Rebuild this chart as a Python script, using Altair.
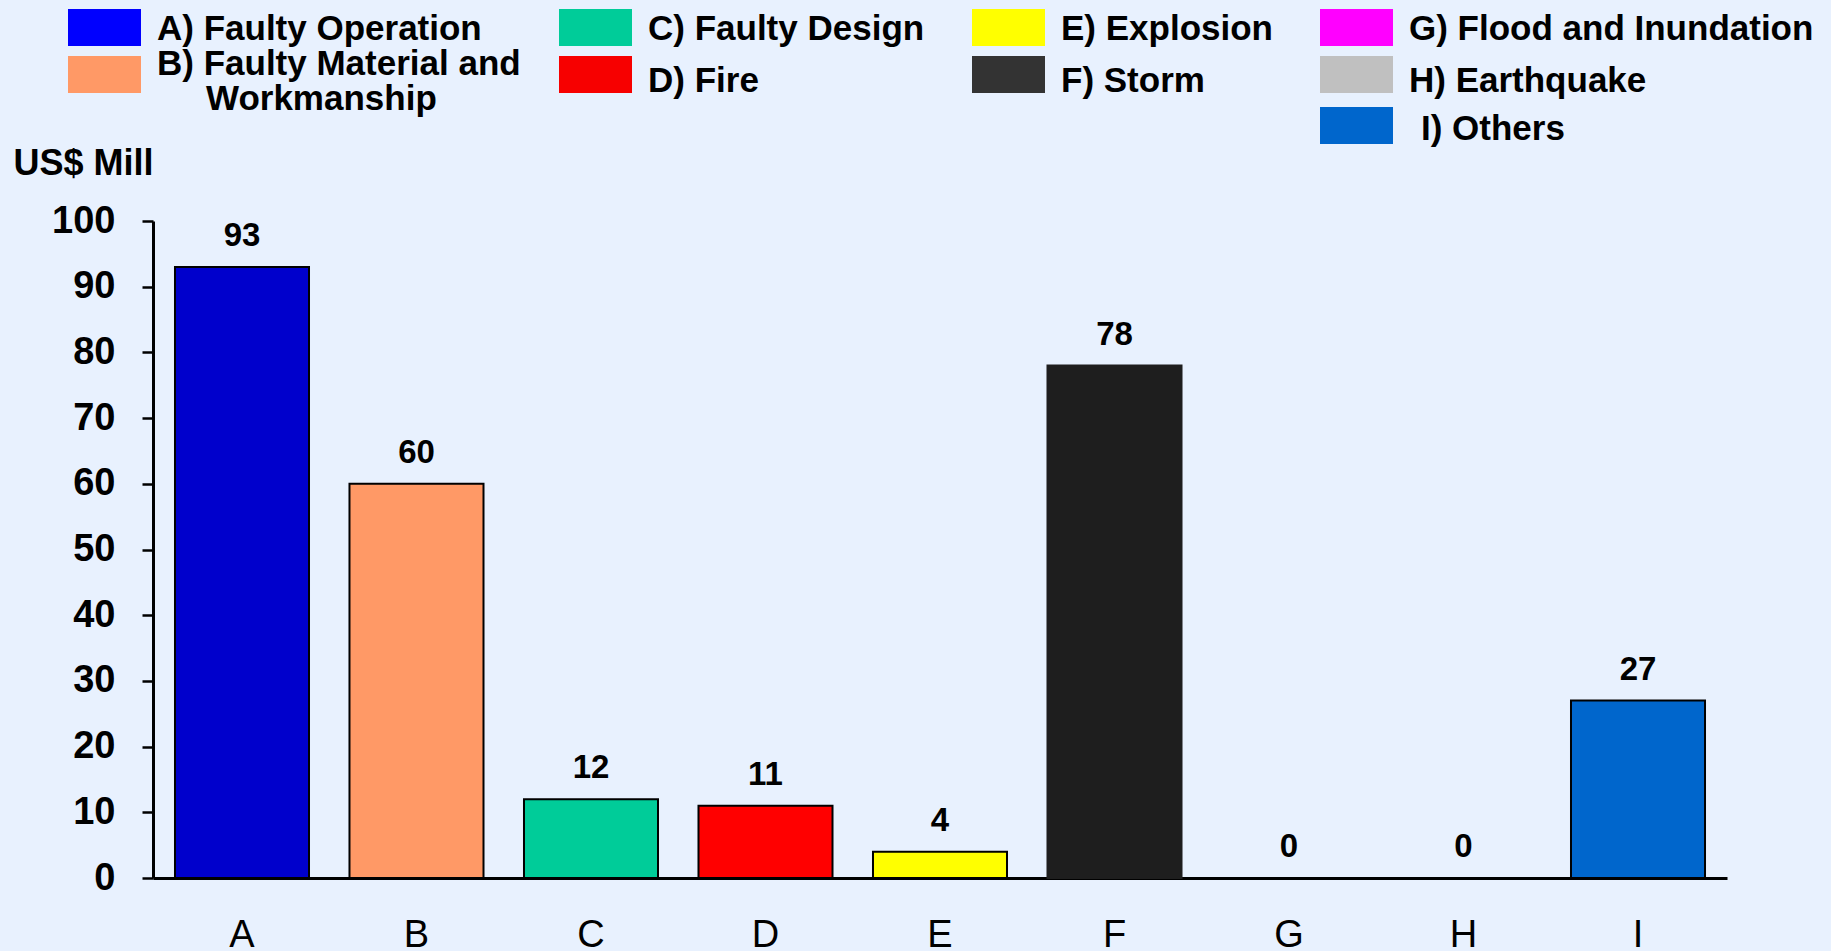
import altair as alt
import pandas as pd

# ---- data -----------------------------------------------------------------
categories = ["A", "B", "C", "D", "E", "F", "G", "H", "I"]
losses = [93, 60, 12, 11, 4, 78, 0, 0, 27]          # US$ million
bar_colors = ["#0000CC", "#FF9966", "#00CC99", "#FF0000", "#FFFF00",
              "#1E1E1E", "#FF00FF", "#C0C0C0", "#0066CC"]
bar_edges = ["#000000", "#000000", "#000000", "#000000", "#000000",
             "#1E1E1E", "#000000", "#000000", "#000000"]

legend_labels = [
    "A) Faulty Operation",
    "B) Faulty Material and\nWorkmanship",
    "C) Faulty Design",
    "D) Fire",
    "E) Explosion",
    "F) Storm",
    "G) Flood and Inundation",
    "H) Earthquake",
    " I) Others",
]
legend_colors = ["#0000FF", "#FF9966", "#00CC99", "#F70000", "#FFFF00",
                 "#333333", "#FF00FF", "#C0C0C0", "#0066CC"]
legend_column_sizes = [2, 2, 2, 3]

# ---- layout ---------------------------------------------------------------
FONT = "Liberation Sans"
PAD_L, PAD_T, PAD_R, PAD_B = 153, 221, 104, 73
PLOT_W, PLOT_H = 1574, 657

COL_X = [68, 559, 972, 1320]       # swatch left edge per legend column
TEXT_GAP = 89                      # swatch left -> label start
SWATCH_W, SWATCH_H = 73, 37
ROW_TOP = [9, 56, 107]             # swatch top per legend row
ROW_BASE = [40, 92, 140]           # label baseline per legend row
LINE_H = 35
WRAP_INDENT = 49                   # continuation lines start after "X) "
SPACE_W = 12                       # width of a leading space

df = pd.DataFrame({"cat": categories, "value": losses})

# legend grid, filled column by column; each text line is its own row
swatch_rows, text_rows = [], []
i = 0
for c, n in enumerate(legend_column_sizes):
    for r in range(n):
        label = legend_labels[i]
        swatch_rows.append({
            "fill": legend_colors[i],
            "x": COL_X[c] - PAD_L,
            "x2": COL_X[c] + SWATCH_W - PAD_L,
            "y": ROW_TOP[r] - PAD_T,
            "y2": ROW_TOP[r] + SWATCH_H - PAD_T,
        })
        lines = label.split("\n")
        first_base = ROW_BASE[r] - (len(lines) - 1) * LINE_H / 2
        for k, line in enumerate(lines):
            lead = len(line) - len(line.lstrip(" "))
            shift = lead * SPACE_W + (WRAP_INDENT if k > 0 else 0)
            text_rows.append({
                "label": line.strip(),
                "tx": COL_X[c] + TEXT_GAP + shift - PAD_L,
                "ty": first_base + k * LINE_H - PAD_T,
            })
        i += 1
swatch_df = pd.DataFrame(swatch_rows)
text_df = pd.DataFrame(text_rows)

# ---- main bar chart -------------------------------------------------------
x_enc = alt.X(
    "cat:N",
    sort=categories,
    scale=alt.Scale(paddingInner=0.232, paddingOuter=0.126),
    axis=alt.Axis(
        title=None, labelAngle=0, ticks=False, tickSize=0,
        domainColor="black", domainWidth=3,
        labelFont=FONT, labelFontSize=38, labelFontWeight="normal",
        labelColor="black", labelBaseline="alphabetic", labelPadding=68,
    ),
)
y_enc = alt.Y(
    "value:Q",
    scale=alt.Scale(domain=[0, 100], nice=False),
    axis=alt.Axis(
        values=list(range(0, 101, 10)), grid=False,
        domainColor="black", domainWidth=3,
        tickColor="black", tickWidth=2.5, tickSize=11,
        labelFont=FONT, labelFontSize=38, labelFontWeight="bold",
        labelColor="black", labelPadding=27,
        title="US$ Mill", titleAngle=0, titleAlign="left",
        titleBaseline="alphabetic", titleX=-140, titleY=-47,
        titleFont=FONT, titleFontSize=36, titleFontWeight="bold",
        titleColor="black",
    ),
)

bars = alt.Chart(df).mark_bar(strokeWidth=2).encode(
    x=x_enc,
    y=y_enc,
    fill=alt.Fill("cat:N", scale=alt.Scale(domain=categories, range=bar_colors), legend=None),
    stroke=alt.Stroke("cat:N", scale=alt.Scale(domain=categories, range=bar_edges), legend=None),
)

value_labels = alt.Chart(df).mark_text(
    dy=-21, baseline="alphabetic", font=FONT, fontSize=33,
    fontWeight="bold", color="black",
).encode(
    x=alt.X("cat:N", sort=categories),
    y=alt.Y("value:Q"),
    text=alt.Text("value:Q"),
)

main = alt.layer(bars, value_labels)

# ---- legend drawn above the plot -----------------------------------------
swatches = alt.Chart(swatch_df).mark_rect().encode(
    x=alt.X("x:Q", scale=None, axis=None),
    x2="x2:Q",
    y=alt.Y("y:Q", scale=None, axis=None),
    y2="y2:Q",
    fill=alt.Fill("fill:N", scale=None),
)

legend_text = alt.Chart(text_df).mark_text(
    align="left", baseline="alphabetic", font=FONT, fontSize=35,
    fontWeight="bold", color="black",
).encode(
    x=alt.X("tx:Q", scale=None, axis=None),
    y=alt.Y("ty:Q", scale=None, axis=None),
    text="label:N",
)

chart = alt.layer(main, swatches, legend_text).resolve_scale(
    x="independent", y="independent"
).properties(
    width=PLOT_W,
    height=PLOT_H,
    autosize=alt.AutoSizeParams(type="none"),
    padding={"left": PAD_L, "top": PAD_T, "right": PAD_R, "bottom": PAD_B},
    background="#E8F1FE",
).configure_view(stroke=None)

chart.save("out.html", embed_options={"renderer": "svg", "actions": False})
